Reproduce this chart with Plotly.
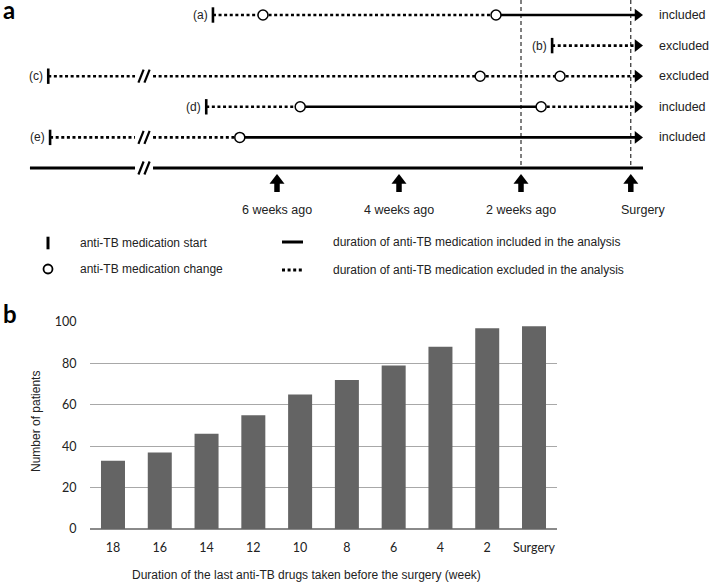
import plotly.graph_objects as go

# ---------------- Panel a: schematic timeline (weeks before surgery) ----------------
case_labels = ["(a)", "(b)", "(c)", "(d)", "(e)"]
case_start_weeks = [7.05, 1.49, 9.75, 7.16, 9.72]
case_change_weeks = [[6.23, 2.41], [], [2.67, 1.36], [5.62, 1.67], [6.61]]
case_included_segment = [2, None, None, 1, 1]
case_status = ["included", "excluded", "excluded", "included", "included"]
case_has_break = [False, False, True, False, True]
break_week = 8.18
timeline_start_week = 10.05
milestone_label_weeks = [6, 4, 2, 0]
milestone_labels = ["6 weeks ago", "4 weeks ago", "2 weeks ago", "Surgery"]
milestone_arrow_weeks = [6, 4, 2, 0.2]
cutoff_weeks = [2, 0.2]

legend_left = ["anti-TB medication start", "anti-TB medication change"]
legend_right = ["duration of anti-TB medication included in the analysis",
                "duration of anti-TB medication excluded in the analysis"]

# ---------------- Panel b: bar chart ----------------
durations = ["18", "16", "14", "12", "10", "8", "6", "4", "2", "Surgery"]
patients = [33, 37, 46, 55, 65, 72, 79, 88, 97, 98]

# ---------------- layout constants ----------------
W, H = 709, 583
PX_PER_WEEK = 61.0
SURGERY_PX = 643.0
ROW0_PX = 15.0
ROW_PX = 30.6
TOP_H = 290.0
BASE_ROW = len(case_labels)

def wx(px):
    return (SURGERY_PX - px) / PX_PER_WEEK

def ry(py):
    return (py - ROW0_PX) / ROW_PX

def dpx(n):
    return n / PX_PER_WEEK

def dpy(n):
    return n / ROW_PX

FONT = "Liberation Sans, Arial, sans-serif"
TXT = "#222222"
LW = 2.6
DOT = "3px,2.6px"
GAP = dpx(9)

solid_x, solid_y, dot_x, dot_y = [], [], [], []
slash_x, slash_y = [], []

def add_seg(xs, ys, a, b, row):
    xs += [a, b, None]
    ys += [row, row, None]

def add_break(row):
    for off in (-3.0, 3.0):
        c = break_week - dpx(off)
        slash_x.extend([c + dpx(2.6), c - dpx(2.6), None])
        slash_y.extend([row + dpy(6.5), row - dpy(6.5), None])

arrow_x = wx(SURGERY_PX - 5.5)
for i, lab in enumerate(case_labels):
    bounds = [case_start_weeks[i]] + case_change_weeks[i] + [arrow_x]
    for s in range(len(bounds) - 1):
        a, b = bounds[s], bounds[s + 1]
        solid = (case_included_segment[i] == s)
        xs, ys = (solid_x, solid_y) if solid else (dot_x, dot_y)
        if case_has_break[i] and a > break_week > b:
            add_seg(xs, ys, a, break_week + GAP, i)
            add_seg(xs, ys, break_week - GAP, b, i)
        else:
            add_seg(xs, ys, a, b, i)
    if case_has_break[i]:
        add_break(i)

add_break(BASE_ROW)

fig = go.Figure()

vx, vy = [], []
for c in cutoff_weeks:
    vx += [c, c, None]
    vy += [ry(0), BASE_ROW, None]
fig.add_trace(go.Scatter(x=vx, y=vy, mode="lines", line=dict(color="black", width=1, dash="4px,3px"),
                         hoverinfo="skip", showlegend=False))

fig.add_trace(go.Scatter(x=dot_x, y=dot_y, mode="lines", line=dict(color="black", width=LW, dash=DOT),
                         hoverinfo="skip", showlegend=False))
fig.add_trace(go.Scatter(x=solid_x, y=solid_y, mode="lines", line=dict(color="black", width=LW),
                         hoverinfo="skip", showlegend=False))
fig.add_trace(go.Scatter(x=[timeline_start_week, break_week + GAP, None, break_week - GAP, 0],
                         y=[BASE_ROW] * 2 + [None] + [BASE_ROW] * 2, mode="lines",
                         line=dict(color="black", width=3.2), hoverinfo="skip", showlegend=False))
fig.add_trace(go.Scatter(x=slash_x, y=slash_y, mode="lines", line=dict(color="black", width=2.2),
                         hoverinfo="skip", showlegend=False))

fig.add_trace(go.Scatter(x=[arrow_x] * len(case_labels), y=list(range(len(case_labels))), mode="markers",
                         marker=dict(symbol="triangle-right", size=11, color="black", line=dict(width=0)),
                         hoverinfo="skip", showlegend=False))
fig.add_trace(go.Scatter(x=case_start_weeks, y=list(range(len(case_labels))), mode="markers",
                         marker=dict(symbol="line-ns", size=11, line=dict(width=2.6, color="black")),
                         hoverinfo="skip", showlegend=False))
cx, cy = [], []
for i, ch in enumerate(case_change_weeks):
    cx += ch
    cy += [i] * len(ch)
fig.add_trace(go.Scatter(x=cx, y=cy, mode="markers",
                         marker=dict(symbol="circle", size=10, color="white", line=dict(width=1.5, color="black")),
                         hoverinfo="skip", showlegend=False))

sx, sy = [], []
for m in milestone_arrow_weeks:
    sx += [m, m, None]
    sy += [ry(182), ry(192), None]
fig.add_trace(go.Scatter(x=sx, y=sy, mode="lines", line=dict(color="black", width=5.5),
                         hoverinfo="skip", showlegend=False))
fig.add_trace(go.Scatter(x=milestone_arrow_weeks, y=[ry(180.5)] * len(milestone_arrow_weeks), mode="markers",
                         marker=dict(symbol="triangle-up", size=13, color="black", line=dict(width=0)),
                         hoverinfo="skip", showlegend=False))

fig.add_trace(go.Scatter(x=[wx(48)], y=[ry(243)], mode="markers",
                         marker=dict(symbol="line-ns", size=9, line=dict(width=3, color="black")),
                         hoverinfo="skip", showlegend=False))
fig.add_trace(go.Scatter(x=[wx(48)], y=[ry(269)], mode="markers",
                         marker=dict(symbol="circle", size=9, color="white", line=dict(width=1.8, color="black")),
                         hoverinfo="skip", showlegend=False))
fig.add_trace(go.Scatter(x=[wx(282), wx(303)], y=[ry(242)] * 2, mode="lines",
                         line=dict(color="black", width=3), hoverinfo="skip", showlegend=False))
fig.add_trace(go.Scatter(x=[wx(282), wx(302)], y=[ry(270)] * 2, mode="lines",
                         line=dict(color="black", width=3, dash=DOT), hoverinfo="skip", showlegend=False))

annotations = []
for i, lab in enumerate(case_labels):
    annotations.append(dict(x=case_start_weeks[i] + dpx(3), y=i, xref="x", yref="y", text=lab,
                            xanchor="right", yanchor="middle", showarrow=False,
                            font=dict(family=FONT, size=12, color=TXT)))
    annotations.append(dict(x=wx(657), y=i, xref="x", yref="y", text=case_status[i],
                            xanchor="left", yanchor="middle", showarrow=False,
                            font=dict(family=FONT, size=12.5, color=TXT)))
for m, lab in zip(milestone_label_weeks, milestone_labels):
    annotations.append(dict(x=m, y=ry(210), xref="x", yref="y", text=lab, xanchor="center",
                            yanchor="middle", showarrow=False, font=dict(family=FONT, size=12.5, color=TXT)))
for t, py in zip(legend_left, [243, 269]):
    annotations.append(dict(x=wx(78), y=ry(py), xref="x", yref="y", text=t, xanchor="left",
                            yanchor="middle", showarrow=False, font=dict(family=FONT, size=12, color=TXT)))
for t, py in zip(legend_right, [242, 270]):
    annotations.append(dict(x=wx(331), y=ry(py), xref="x", yref="y", text=t, xanchor="left",
                            yanchor="middle", showarrow=False, font=dict(family=FONT, size=12, color=TXT)))

annotations.append(dict(x=1 / W, y=1 - 9 / H, xref="paper", yref="paper", text="<b>a</b>", xanchor="left",
                        yanchor="middle", showarrow=False, font=dict(family="Lato, sans-serif", size=24, color="black")))
annotations.append(dict(x=1 / W, y=1 - 314 / H, xref="paper", yref="paper", text="<b>b</b>", xanchor="left",
                        yanchor="middle", showarrow=False, font=dict(family="Lato, sans-serif", size=24, color="black")))

fig.add_trace(go.Bar(x=durations, y=patients, xaxis="x2", yaxis="y2",
                     marker=dict(color="#646464", line=dict(width=0)), showlegend=False))

annotations.append(dict(x=36 / W, y=1 - 422 / H, xref="paper", yref="paper", text="Number of patients",
                        textangle=-90, xanchor="center", yanchor="middle", showarrow=False,
                        font=dict(family=FONT, size=12, color=TXT)))
annotations.append(dict(x=306 / W, y=1 - 575 / H, xref="paper", yref="paper",
                        text="Duration of the last anti-TB drugs taken before the surgery (week)",
                        xanchor="center", yanchor="middle", showarrow=False,
                        font=dict(family=FONT, size=12, color=TXT)))

fig.update_layout(
    template="none",
    width=W, height=H,
    margin=dict(l=0, r=0, t=0, b=0, pad=0, autoexpand=False),
    paper_bgcolor="white", plot_bgcolor="white",
    bargap=0.487,
    showlegend=False,
    xaxis=dict(domain=[0, 1], range=[wx(0), wx(W)], visible=False, fixedrange=True, automargin=False),
    yaxis=dict(domain=[1 - TOP_H / H, 1], range=[ry(TOP_H), ry(0)], visible=False, fixedrange=True,
               automargin=False),
    xaxis2=dict(domain=[89.6 / W, 557.4 / W], anchor="y2", type="category", showgrid=False,
                showline=False, ticks="", ticklabelstandoff=9, automargin=False,
                tickfont=dict(family="Lato, sans-serif", size=12.5, color=TXT)),
    yaxis2=dict(domain=[(H - 529) / H, (H - 322) / H], anchor="x2", range=[0, 100], dtick=20,
                showgrid=True, gridcolor="#a8a8a8", gridwidth=1, zeroline=True, automargin=False,
                zerolinecolor="#8a8a8a", zerolinewidth=1.5, showline=False, ticks="",
                ticklabelstandoff=12, tickfont=dict(family="Lato, sans-serif", size=12.5, color=TXT)),
    annotations=annotations,
)

fig.write_html("out.html", config={"displayModeBar": False},
               post_script="document.body.style.margin='0';document.body.style.padding='0';")
